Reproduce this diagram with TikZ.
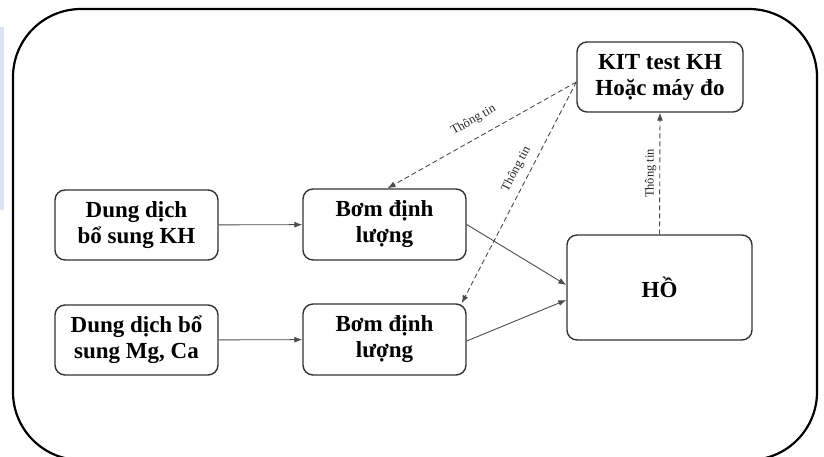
\documentclass[tikz,border=0pt]{standalone}
\usepackage{fontspec}
\setmainfont{Liberation Serif}
\usetikzlibrary{arrows.meta,calc}
\definecolor{stripblue}{RGB}{218,227,243}
\begin{document}
\begin{tikzpicture}[x=1pt,y=-1pt,
  box/.style={draw=black!80, line width=1.4pt, rounded corners=10pt, align=center,
    font=\fontsize{23}{26}\selectfont\bfseries, inner sep=0pt},
  conn/.style={draw=black!70, line width=0.9pt, -{Latex[length=8pt,width=6pt]}},
  info/.style={conn, dash pattern=on 5pt off 3pt},
  lbl/.style={font=\fontsize{12.5}{12.5}\selectfont, text=black!85, sloped, inner sep=1pt}]
\useasboundingbox (0,0) rectangle (824,456);
\fill[white] (0,0) rectangle (824,456);
\fill[stripblue] (0,27) rectangle (4,210);
\begin{scope}
\clip (0,0) rectangle (824,456);
\draw[black, line width=2.2pt, rounded corners=68pt] (13,9) rectangle (817,460);
\end{scope}
\node[box, minimum width=166pt, minimum height=70pt] (kit) at (660,77) {KIT test KH\\Hoặc máy đo};
\node[box, minimum width=163pt, minimum height=70pt] (kh) at (136.5,225) {Dung dịch\\bổ sung KH};
\node[box, minimum width=163pt, minimum height=71pt] (bom1) at (384.5,224.5) {Bơm định\\lượng};
\node[box, minimum width=163pt, minimum height=70pt] (mg) at (136.5,340) {Dung dịch bổ\\sung Mg, Ca};
\node[box, minimum width=163pt, minimum height=71pt] (bom2) at (384.5,339.5) {Bơm định\\lượng};
\node[box, minimum width=185pt, minimum height=105pt] (ho) at (659.5,287.5) {HỒ};
\coordinate (kitL) at ([yshift=-5pt]kit.west);
\draw[conn] (kh) -- (bom1);
\draw[conn] (mg) -- (bom2);
\draw[conn] (bom1.east) -- ([yshift=2.5pt]ho.west);
\draw[conn] ([yshift=-1.5pt]bom2.east) -- ([yshift=-12.5pt]ho.west);
\draw[info] (ho.north) -- node[lbl, above=2pt, pos=0.5] {Thông tin} (kit.south);
\draw[info] (kitL) -- node[lbl, above=10pt, pos=0.5] {Thông tin} ([xshift=3pt]bom1.north);
\draw[info] (kitL) -- node[lbl, above=6pt, pos=0.42] {Thông tin} ([xshift=-5pt]bom2.north east);
\end{tikzpicture}
\end{document}
